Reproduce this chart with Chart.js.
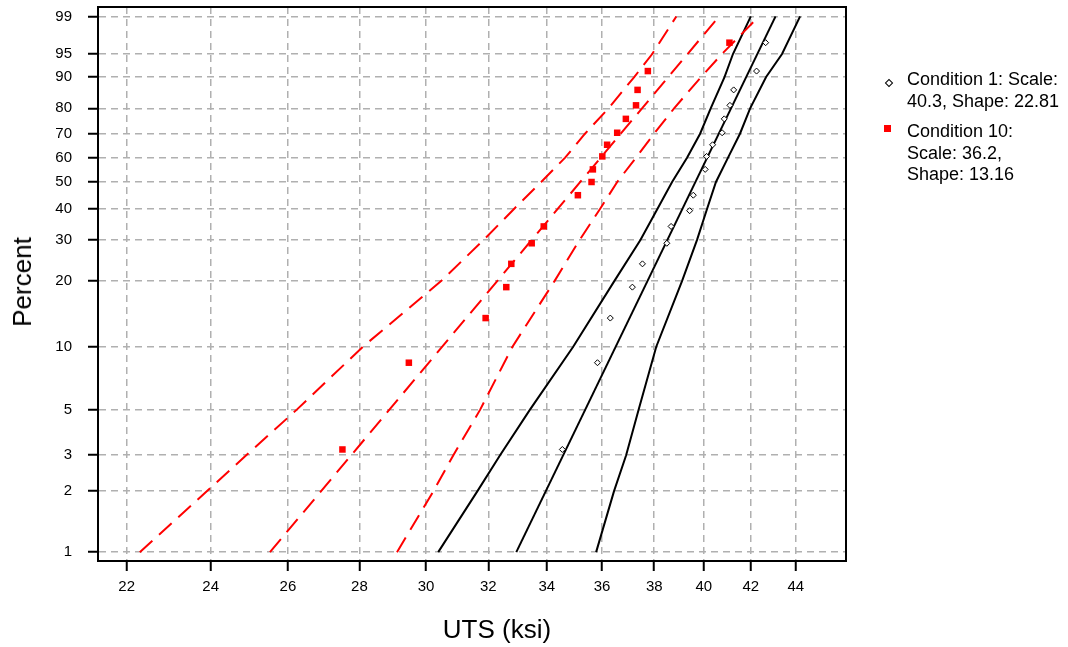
<!DOCTYPE html>
<html>
<head>
<meta charset="utf-8">
<title>UTS Weibull probability plot</title>
<script src="https://cdn.jsdelivr.net/npm/chart.js@4.4.1/dist/chart.umd.min.js"></script>
<style>
  html, body { margin: 0; padding: 0; background: #fff; }
  #wrap { position: relative; width: 1068px; height: 647px; font-family: "Liberation Sans", Arial, sans-serif; color: #000; }
  #plot { position: absolute; left: 0; top: 0; }
  .axis-title { position: absolute; font-size: 26px; line-height: 26px; white-space: nowrap; }
  #xTitle { left: 0; width: 994px; text-align: center; top: 616px; }
  #yTitle { left: 22px; top: 282px; transform: translate(-50%, -50%) rotate(-90deg); }
  .legend-text { position: absolute; left: 907px; font-size: 18px; line-height: 21.5px; white-space: nowrap; }
  .mark-c1 { position: absolute; left: 886px; top: 80px; width: 4px; height: 4px; border: 1px solid #000; background: #fff; transform: rotate(45deg); }
  .mark-c10 { position: absolute; left: 884px; top: 125px; width: 7px; height: 7px; background: #ff0000; }
</style>
</head>
<body>
<div id="wrap">
  <canvas id="plot" width="1068" height="647"></canvas>
  <div class="axis-title" id="xTitle">UTS (ksi)</div>
  <div class="axis-title" id="yTitle">Percent</div>
  <div class="mark-c1"></div>
  <div class="legend-text" style="top:69px">Condition 1: Scale:<br>40.3, Shape: 22.81</div>
  <div class="mark-c10"></div>
  <div class="legend-text" style="top:121px">Condition 10:<br>Scale: 36.2,<br>Shape: 13.16</div>
</div>
<script>
// Axis tick values
const pctTicks = [1, 2, 3, 5, 10, 20, 30, 40, 50, 60, 70, 80, 90, 95, 99];
const utsTicks = [22, 24, 26, 28, 30, 32, 34, 36, 38, 40, 42, 44];

// Condition 1 observations (UTS in ksi, plotting position in percent)
const cond1Uts = [34.55, 35.83, 36.31, 37.15, 37.54, 38.50, 38.67, 39.42, 39.57, 40.06, 40.12, 40.37, 40.77, 40.86, 41.10, 41.26, 42.25, 42.65];
const cond1Pct = [3.2, 8.4, 13.6, 18.8, 23.8, 29.1, 34.1, 39.3, 44.9, 55.1, 60.5, 65.4, 70.4, 76.0, 81.1, 86.3, 91.5, 96.7];

// Condition 10 observations
const cond10Uts = [27.51, 29.47, 31.91, 32.60, 32.77, 33.47, 33.89, 35.11, 35.61, 35.66, 36.01, 36.19, 36.57, 36.90, 37.29, 37.35, 37.75, 41.08];
const cond10Pct = [3.2, 8.4, 13.6, 18.8, 23.8, 29.1, 34.1, 44.9, 50.0, 55.1, 60.5, 65.4, 70.4, 76.0, 81.1, 86.3, 91.5, 96.7];

// Fitted Weibull lines, end points at 1% and 99%
const fitPct = [1, 99];
const fit1Uts = [32.94, 43.09];   // scale 40.3, shape 22.81
const fit10Uts = [25.52, 40.64];  // scale 36.2, shape 13.16

// Confidence bounds, sampled at the percent tick levels
const boundPct = [1, 2, 3, 5, 10, 20, 30, 40, 50, 60, 70, 80, 90, 95, 99];
const cond1Lower = [30.38, 31.64, 32.39, 33.41, 34.94, 36.46, 37.46, 38.13, 38.71, 39.32, 39.85, 40.29, 40.87, 41.23, 42.00];
const cond1Upper = [35.78, 36.45, 36.91, 37.39, 38.08, 39.11, 39.72, 40.14, 40.51, 41.02, 41.53, 41.97, 42.67, 43.38, 44.20];
const cond10Lower = [22.30, 23.91, 24.90, 26.24, 28.10, 30.47, 31.84, 32.87, 33.80, 34.65, 35.37, 36.24, 37.22, 37.92, 38.88];
const cond10Upper = [29.11, 30.23, 30.86, 31.73, 32.81, 34.27, 35.17, 35.93, 36.57, 37.29, 37.99, 38.79, 39.89, 40.76, 42.35];

// Weibull probability paper: x = ln(UTS), y = ln(-ln(1 - p))
const wb = p => Math.log(-Math.log(1 - p / 100));
const toPoints = (uts, pct) => uts.map((u, i) => ({ x: Math.log(u), y: wb(pct[i]) }));

const FONT = '"Liberation Sans", Arial, sans-serif';
const RED = '#ff0000';

const redLine = data => ({
  data, showLine: true, pointRadius: 0, borderColor: RED, borderWidth: 2,
  borderDash: [17, 9], fill: false, tension: 0, order: 2
});
const blackLine = data => ({
  data, showLine: true, pointRadius: 0, borderColor: '#000', borderWidth: 2,
  fill: false, tension: 0, order: 2
});

const framePlugin = {
  id: 'frame',
  afterDraw(chart) {
    const { ctx, chartArea: a } = chart;
    ctx.save();
    ctx.strokeStyle = '#000';
    ctx.lineWidth = 2;
    ctx.strokeRect(a.left, a.top, a.right - a.left, a.bottom - a.top);
    ctx.restore();
  }
};

const gridOpts = {
  color: '#b0b0b0', lineWidth: 1.5,
  tickColor: '#000', tickWidth: 2, tickLength: 10, tickBorderDash: []
};
const borderOpts = { display: true, color: '#000', width: 2, dash: [7, 5] };

new Chart(document.getElementById('plot'), {
  type: 'scatter',
  data: {
    datasets: [
      {
        label: 'Condition 1', data: toPoints(cond1Uts, cond1Pct),
        pointStyle: 'rectRot', pointRadius: 3, backgroundColor: '#fff',
        borderColor: '#000', borderWidth: 1, order: 0
      },
      {
        label: 'Condition 10', data: toPoints(cond10Uts, cond10Pct),
        pointStyle: 'rect', pointRadius: 4.6, backgroundColor: RED,
        borderColor: RED, borderWidth: 0, order: 0
      },
      redLine(toPoints(fit10Uts, fitPct)),
      redLine(toPoints(cond10Lower, boundPct)),
      redLine(toPoints(cond10Upper, boundPct)),
      blackLine(toPoints(fit1Uts, fitPct)),
      blackLine(toPoints(cond1Lower, boundPct)),
      blackLine(toPoints(cond1Upper, boundPct))
    ]
  },
  options: {
    responsive: false,
    animation: false,
    layout: { padding: { left: 0, right: 222, top: 7, bottom: 0 } },
    plugins: { legend: { display: false }, tooltip: { enabled: false } },
    scales: {
      x: {
        type: 'linear',
        min: 3.06131, max: 3.83628,
        afterBuildTicks: s => { s.ticks = utsTicks.map(v => ({ value: Math.log(v) })); },
        afterFit: s => { s.height = 86; s.paddingLeft = 0; s.paddingRight = 0; },
        ticks: {
          callback: (v, i) => String(utsTicks[i]),
          font: { family: FONT, size: 15 }, color: '#000',
          padding: 7, maxRotation: 0, autoSkip: false
        },
        grid: gridOpts,
        border: borderOpts
      },
      y: {
        type: 'linear',
        min: -4.7014, max: 1.6351,
        afterBuildTicks: s => { s.ticks = pctTicks.map(p => ({ value: wb(p) })); },
        afterFit: s => { s.width = 98; s.paddingTop = 0; s.paddingBottom = 0; },
        ticks: {
          callback: (v, i) => String(pctTicks[i]),
          font: { family: FONT, size: 15 }, color: '#000',
          padding: 16, autoSkip: false
        },
        grid: gridOpts,
        border: borderOpts
      }
    }
  },
  plugins: [framePlugin]
});
</script>
</body>
</html>
